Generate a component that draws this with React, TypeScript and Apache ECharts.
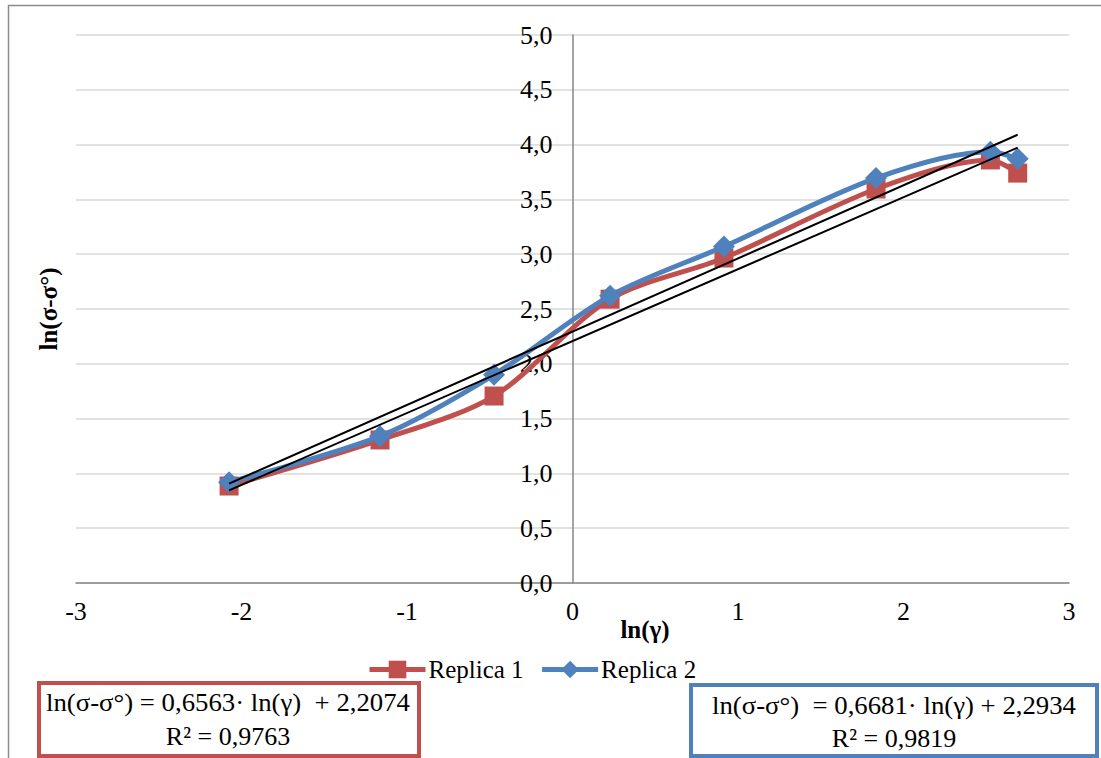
import React, { useEffect, useRef } from "react";
import * as echarts from "echarts";

const xValues = [-2.075, -1.163, -0.474, 0.227, 0.915, 1.834, 2.525, 2.69];
const replica1 = [0.885, 1.305, 1.706, 2.59, 2.965, 3.595, 3.86, 3.74];
const replica2 = [0.92, 1.34, 1.9, 2.62, 3.07, 3.695, 3.935, 3.87];
const trend1 = { slope: 0.6563, intercept: 2.2074 };
const trend2 = { slope: 0.6681, intercept: 2.2934 };
const seriesNames = ["Replica 1", "Replica 2"];
const eq1 = ["ln(σ-σ°) = 0,6563· ln(γ)  + 2,2074", "R² = 0,9763"];
const eq2 = ["ln(σ-σ°)  = 0,6681· ln(γ) + 2,2934", "R² = 0,9819"];

const RED = "#c0504d";
const BLUE = "#4f81bd";
const FONT = "Liberation Serif";
const FS = 26;

export default function App() {
  const ref = useRef<HTMLDivElement>(null);
  useEffect(() => {
    if (!ref.current) return;
    const chart = echarts.init(ref.current, undefined, { renderer: "svg" });
    const xmin = Math.min(...xValues);
    const xmax = Math.max(...xValues);
    const trendLine = (t: { slope: number; intercept: number }) => [
      [xmin, t.slope * xmin + t.intercept],
      [xmax, t.slope * xmax + t.intercept],
    ];
    const fmt = (v: number) => v.toFixed(1).replace(".", ",");
    const txt = (text: string, x: number, y: number, size: number, bold = false, rotation = 0, scaleX = 1) => ({
      type: "text",
      x,
      y,
      rotation,
      scaleX,
      style: {
        text,
        fontFamily: FONT,
        fontSize: size,
        fontWeight: bold ? "bold" : "normal",
        fill: "#000",
        align: "center",
        verticalAlign: "middle",
      },
    });
    chart.setOption({
      animation: false,
      backgroundColor: "#ffffff",
      grid: { left: 76, right: 32, top: 35, bottom: 175 },
      legend: {
        data: seriesNames,
        left: 362,
        top: 652,
        itemWidth: 56,
        itemHeight: 22,
        itemGap: 16,
        lineStyle: { width: 5 },
        textStyle: { fontFamily: FONT, fontSize: 25, color: "#000", padding: [0, 0, 0, -2] },
      },
      xAxis: {
        type: "value",
        min: -3,
        max: 3,
        interval: 1,
        axisLine: { onZero: false, lineStyle: { color: "#868686", width: 1.5 } },
        axisTick: { show: false },
        splitLine: { show: false },
        axisLabel: { fontFamily: FONT, fontSize: FS, color: "#000", margin: 15 },
      },
      yAxis: {
        type: "value",
        min: 0,
        max: 5,
        interval: 0.5,
        offset: -496.5,
        axisLine: { show: true, onZero: false, lineStyle: { color: "#868686", width: 1.5 } },
        axisTick: { show: false },
        splitLine: { show: true, lineStyle: { color: "#d9d9d9", width: 1.5 } },
        axisLabel: { fontFamily: FONT, fontSize: FS, color: "#000", margin: 20, formatter: fmt },
      },
      series: [
        {
          name: seriesNames[0],
          type: "line",
          smooth: 0.3,
          data: xValues.map((x, i) => [x, replica1[i]]),
          symbol: "rect",
          symbolSize: 19,
          itemStyle: { color: RED },
          lineStyle: { color: RED, width: 5 },
          z: 2,
        },
        {
          name: seriesNames[1],
          type: "line",
          smooth: 0.3,
          data: xValues.map((x, i) => [x, replica2[i]]),
          symbol: "diamond",
          symbolSize: 22,
          itemStyle: { color: BLUE },
          lineStyle: { color: BLUE, width: 5 },
          z: 3,
        },
        {
          name: "trend1",
          type: "line",
          data: trendLine(trend1),
          symbol: "none",
          lineStyle: { color: "#000", width: 2 },
          z: 4,
        },
        {
          name: "trend2",
          type: "line",
          data: trendLine(trend2),
          symbol: "none",
          lineStyle: { color: "#000", width: 2 },
          z: 4,
        },
      ],
      graphic: [
        {
          type: "rect",
          shape: { x: 8.5, y: 5.5, width: 1200, height: 900 },
          style: { fill: "none", stroke: "#8c8c8c", lineWidth: 1.5 },
          silent: true,
          z: -10,
        },
        txt("ln(σ-σ°)", 48, 309, 25, true, Math.PI / 2),
        txt("ln(γ)", 645, 629, 25, true),
        {
          type: "rect",
          shape: { x: 39, y: 683, width: 380, height: 73 },
          style: { fill: "#fff", stroke: RED, lineWidth: 4 },
        },
        txt(eq1[0], 228, 702, FS, false, 0, 1.03),
        txt(eq1[1], 228, 736, FS),
        {
          type: "rect",
          shape: { x: 691, y: 685, width: 406, height: 71 },
          style: { fill: "#fff", stroke: BLUE, lineWidth: 4 },
        },
        txt(eq2[0], 894, 705, FS, false, 0, 1.03),
        txt(eq2[1], 894, 738, FS),
      ],
    });
    return () => chart.dispose();
  }, []);
  return (
    <div
      ref={ref}
      style={{ position: "fixed", left: 0, top: 0, width: 1101, height: 758 }}
    />
  );
}
